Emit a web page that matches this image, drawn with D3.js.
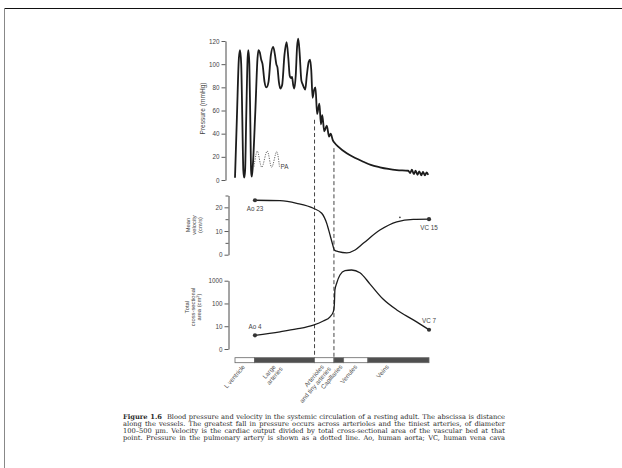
<!DOCTYPE html>
<html><head><meta charset="utf-8">
<script src="https://cdn.jsdelivr.net/npm/d3@7"></script>
<style>html,body{margin:0;padding:0;background:#fff;} svg{display:block;}</style>
</head><body>
<script>
// ---- data (distance along vessels 0..100, arbitrary units) ----
const pressure = [[0,2],[1.0,55],[2.0,105],[2.6,112],[3.2,100],[3.8,50],[4.3,8],[4.75,2],[5.2,8],[5.8,55],[6.5,105],[6.9,112],[7.4,100],[7.9,50],[8.3,8],[8.6,3],[9.0,8],[10.5,60],[11.6,105],[12.1,112],[12.8,110],[13.5,104],[14.2,100],[15.2,85],[16.2,80],[17.3,85],[18.5,108],[19.7,115],[20.6,108],[21.3,100],[21.9,97],[22.6,85],[23.4,79],[24.3,82],[25.5,108],[26.6,119],[27.5,105],[28.2,90],[28.8,88],[29.4,89],[30.0,82],[30.6,79],[31.3,90],[32.0,115],[32.6,122],[33.3,110],[34.2,86],[34.8,83],[35.5,80],[36.2,78],[37.0,90],[38.0,102],[38.7,104],[39.3,95],[40.0,71],[40.8,78],[41.5,80],[42.3,57],[43.5,66],[44.3,48],[45.0,56],[46.0,42],[47.3,47],[48.5,37.5],[49.3,40],[50.4,34.5],[51.5,31.7],[53.2,28.8],[57.6,23],[62,19],[66.1,15.8],[70,13],[74.7,11],[79,9.6],[83.4,8.6],[89.3,8],[90.3,6],[91.2,9],[92.2,5],[93.1,8],[94.1,4.5],[95.0,7.5],[96.0,4],[96.9,7],[97.9,4],[98.8,6.5],[99.6,4.5]];
const pulmonaryPressure = [[9.8,11.5],[11.5,25],[13.8,11],[16.6,25],[18.9,11],[21.5,24.5],[22.9,11.5]];
const velocity = [[10.3,23],[23.2,22.8],[31.8,21.7],[40.4,19.6],[44.7,17.5],[47.3,13.2],[49,8.3],[50.4,4.1],[51.2,2],[53.2,1.3],[57.6,0.8],[61.9,2],[66.1,4.8],[74.7,10.4],[83.4,13.9],[91.9,14.9],[100,15]];
const velocityNote = [[85,15.8]];
const area = [[10.3,4],[23.2,5.7],[31.8,7.6],[40.4,11.3],[45.5,17],[49,26],[50.7,44],[51.2,86],[51.5,390],[52.4,770],[54.1,1780],[56.7,2750],[60.1,2950],[64.4,2240],[69.6,710],[76.3,157],[83.4,52],[91.9,19],[100,7]];
const velocityEndLabels = ["Ao 23","VC 15"];
const areaEndLabels = ["Ao 4","VC 7"];
const pressureTicks = [0,20,40,60,80,100,120];
const velocityTicks = [0,10,20];
const velocityMinorTicks = [5,15,25];
const areaTicks = [1,10,100,1000];
const areaTickLabels = ["0","10","100","1000"];
const vesselBounds = [0,10,41,51,56,68.5,100];
const vesselShade = ["light","dark","light","dark","light","dark"];
const vesselLabels = [["L ventricle"],["Large","arteries"],["Arterioles","and tiny arteries"],["Capillaries"],["Venules"],["Veins"]];
const vesselLabelAt = [4.8,20.6,45.5,55,62.7,79];
const dividerAt = [41,51];
const dividerTopPressure = [52,27.5];
const captionLines = [
  ["Figure 1.6", "  Blood pressure and velocity in the systemic circulation of a resting adult. The abscissa is distance"],
  ["", "along the vessels. The greatest fall in pressure occurs across arterioles and the tiniest arteries, of diameter"],
  ["", "100\u2013500 \u00b5m. Velocity is the cardiac output divided by total cross-sectional area of the vascular bed at that"],
  ["", "point. Pressure in the pulmonary artery is shown as a dotted line. Ao, human aorta; VC, human vena cava"]
];

// ---- drawing ----
const W = 622, H = 468;
const svg = d3.select("body").append("svg").attr("width", W).attr("height", H);
svg.append("rect").attr("width", W).attr("height", H).attr("fill", "#fff");
svg.append("line").attr("x1",4).attr("x2",W).attr("y1",8.5).attr("y2",8.5).attr("stroke","#111").attr("stroke-width",1.2);
svg.append("line").attr("x1",4.5).attr("x2",4.5).attr("y1",8).attr("y2",H).attr("stroke","#888").attr("stroke-width",1);

const SANS = "'Liberation Sans', Arial, Helvetica, sans-serif";
const ink = "#1c1c1c", grey = "#4a4a4a";

const x = d3.scaleLinear().domain([0,100]).range([235,429]);
const yP = d3.scaleLinear().domain([0,120]).range([180,41]);
const yV = d3.scaleLinear().domain([0,25]).range([254.7,195.5]);
const yA = d3.scaleLog().domain([1,1000]).range([349,280.7]);

function styleAxis(g){
  g.selectAll("path.domain").attr("stroke", grey).attr("stroke-width",1);
  g.selectAll(".tick line").attr("stroke", grey).attr("stroke-width",0.9);
  g.selectAll(".tick text").attr("fill","#444").attr("font-family",SANS).attr("font-size",6.3);
}
const gP = svg.append("g").attr("transform","translate(225.5,0)")
  .call(d3.axisLeft(yP).tickValues(pressureTicks).tickSize(4).tickSizeOuter(0).tickPadding(2));
styleAxis(gP);
const gV = svg.append("g").attr("transform","translate(228.5,0)")
  .call(d3.axisLeft(yV).tickValues(velocityTicks).tickSize(4).tickSizeOuter(0).tickPadding(2));
styleAxis(gV);
const gV2 = svg.append("g").attr("transform","translate(228.5,0)")
  .call(d3.axisLeft(yV).tickValues(velocityMinorTicks).tickSize(3).tickSizeOuter(0).tickFormat(""));
styleAxis(gV2); gV2.select("path.domain").remove();
const gA = svg.append("g").attr("transform","translate(228.5,0)")
  .call(d3.axisLeft(yA).tickValues(areaTicks).tickSize(4).tickSizeOuter(0).tickPadding(2)
        .tickFormat((d,i)=>areaTickLabels[i]));
styleAxis(gA);

function title(cx, cy, lines, size, gap){
  const t = svg.append("text").attr("transform",`translate(${cx},${cy}) rotate(-90)`)
    .attr("text-anchor","middle").attr("font-family",SANS).attr("font-size",size).attr("fill","#444");
  lines.forEach((l,i)=>{
    const ts = t.append("tspan").attr("x",0).attr("y", i*gap);
    if (l.sup) { ts.text(l.text); ts.append("tspan").attr("font-size",size*0.7).attr("dy",-size*0.35).text(l.sup); ts.append("tspan").attr("dy",size*0.35).text(")"); }
    else ts.text(l.text);
  });
}
title(205, 108.5, [{text:"Pressure (mmHg)"}], 6.6, 0);
title(189.5, 225, [{text:"Mean"},{text:"velocity"},{text:"(cm/s)"}], 5.8, 6);
title(189, 307, [{text:"Total"},{text:"cross-sectional"},{text:"area (cm", sup:"2"}], 5.8, 6);

dividerAt.forEach((d,i)=>{
  svg.append("line").attr("x1",x(d)).attr("x2",x(d)).attr("y1",yP(dividerTopPressure[i])).attr("y2",357.7)
    .attr("stroke","#444").attr("stroke-width",1).attr("stroke-dasharray","4,2.6");
});

const lineP = d3.line().x(d=>x(d[0])).y(d=>yP(d[1])).curve(d3.curveMonotoneX);
svg.append("path").attr("d", lineP(pressure)).attr("fill","none").attr("stroke",ink).attr("stroke-width",1.8).attr("stroke-linejoin","round");
svg.append("path").attr("d", d3.line().x(d=>x(d[0])).y(d=>yP(d[1])).curve(d3.curveCatmullRom)(pulmonaryPressure))
  .attr("fill","none").attr("stroke","#555").attr("stroke-width",0.9).attr("stroke-dasharray","1.2,1.2");
const last = pulmonaryPressure[pulmonaryPressure.length-1];
svg.append("text").attr("x", x(last[0])+1).attr("y", yP(last[1])+2.5).attr("font-family",SANS).attr("font-size",6.3).attr("fill","#444").text("PA");

const lineV = d3.line().x(d=>x(d[0])).y(d=>yV(d[1])).curve(d3.curveMonotoneX);
svg.append("path").attr("d", lineV(velocity)).attr("fill","none").attr("stroke",ink).attr("stroke-width",1.3);
const lineA = d3.line().x(d=>x(d[0])).y(d=>yA(d[1])).curve(d3.curveMonotoneX);
svg.append("path").attr("d", lineA(area)).attr("fill","none").attr("stroke",ink).attr("stroke-width",1.3);

const vEnds = [velocity[0], velocity[velocity.length-1]];
const aEnds = [area[0], area[area.length-1]];
vEnds.forEach((d,i)=>{
  svg.append("circle").attr("cx",x(d[0])).attr("cy",yV(d[1])).attr("r",2.1).attr("fill","#333");
  svg.append("text").attr("x",x(d[0])).attr("y",yV(d[1])+11).attr("text-anchor","middle")
    .attr("font-family",SANS).attr("font-size",6.3).attr("fill","#444").text(velocityEndLabels[i]);
});
aEnds.forEach((d,i)=>{
  svg.append("circle").attr("cx",x(d[0])).attr("cy",yA(d[1])).attr("r",2.1).attr("fill","#333");
  svg.append("text").attr("x",x(d[0])).attr("y",yA(d[1])-6.5).attr("text-anchor","middle")
    .attr("font-family",SANS).attr("font-size",6.3).attr("fill","#444").text(areaEndLabels[i]);
});
velocityNote.forEach(d=>{
  svg.append("circle").attr("cx",x(d[0])).attr("cy",yV(d[1])).attr("r",0.9).attr("fill","#444");
});

const segs = vesselShade.map((s,i)=>({a:vesselBounds[i], b:vesselBounds[i+1], s}));
svg.selectAll("rect.seg").data(segs).enter().append("rect").attr("class","seg")
  .attr("x",d=>x(d.a)).attr("width",d=>x(d.b)-x(d.a)).attr("y",357.7).attr("height",5)
  .attr("fill",d=>d.s==="dark"?"#4f4f4f":"#fff").attr("stroke","#666").attr("stroke-width",0.8);

vesselLabels.forEach((lines,i)=>{
  const g = svg.append("g").attr("transform",`translate(${x(vesselLabelAt[i])+1},367) rotate(-50)`);
  lines.forEach((l,j)=>{
    g.append("text").attr("x", j*3).attr("y", j*6.8).attr("text-anchor","end")
      .attr("font-family",SANS).attr("font-size",6.3).attr("fill","#555").text(l);
  });
});

// caption, fitted and justified
const capX0 = 123, capX1 = 505, capY0 = 419, capGap = 7;
const SERIF = "'DejaVu Serif','Liberation Serif',serif";
const capTexts = captionLines.map((parts,i)=>{
  const t = svg.append("text").attr("x",capX0).attr("y",capY0+i*capGap)
    .attr("font-family",SERIF).attr("font-size",7).attr("fill","#2a2a2a").style("white-space","pre");
  if (parts[0]) t.append("tspan").attr("font-weight","bold").text(parts[0]);
  t.append("tspan").text(parts[1]);
  return t;
});
const maxW = d3.max(capTexts, t=>t.node().getComputedTextLength());
const fs = Math.min(7.6, 7 * (capX1-capX0-6) / maxW);
capTexts.forEach((t,i)=>{
  t.attr("font-size", fs);
  const w = t.node().getComputedTextLength();
  const full = captionLines[i][0] + captionLines[i][1];
  const spaces = (full.match(/ /g)||[]).length;
  if (spaces>0) t.attr("word-spacing", (capX1-capX0-w)/spaces);
});
</script>
</body></html>
